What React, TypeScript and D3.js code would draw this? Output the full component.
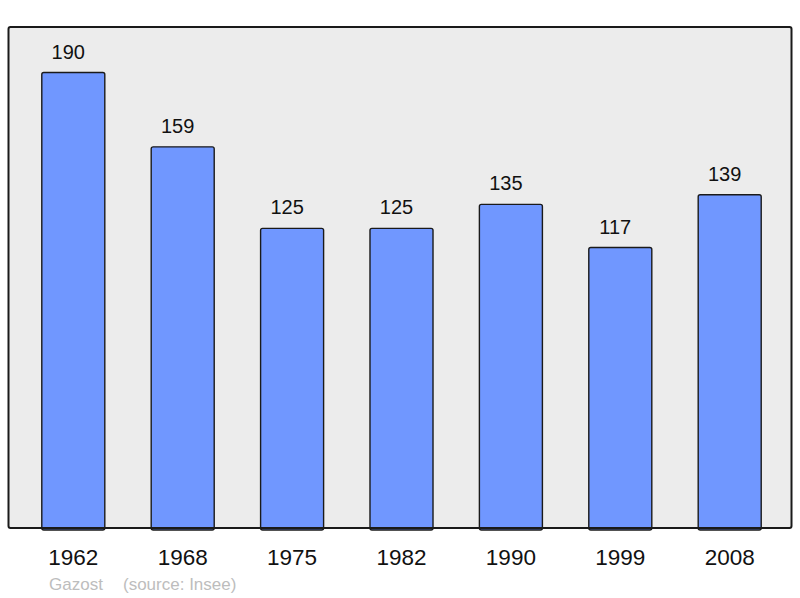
import * as d3 from "d3";
import { useEffect, useRef } from "react";

const years = ["1962", "1968", "1975", "1982", "1990", "1999", "2008"];
const population = [190, 159, 125, 125, 135, 117, 139];
const commune = "Gazost";
const source = "(source: Insee)";

function App() {
  const ref = useRef<SVGSVGElement>(null);

  useEffect(() => {
    const width = 800;
    const height = 598;
    const svg = d3.select(ref.current);
    svg.selectAll("*").remove();

    const frame = { left: 8.5, top: 27, right: 791.5, bottom: 528 };

    const x = d3
      .scaleBand<string>()
      .domain(years)
      .range([18.6, 784.4])
      .paddingInner(0.424)
      .paddingOuter(0.212);

    const y = d3.scaleLinear().domain([0, 209]).range([frame.bottom, frame.top]);

    // plot background
    svg
      .append("rect")
      .attr("x", frame.left)
      .attr("y", frame.top)
      .attr("width", frame.right - frame.left)
      .attr("height", frame.bottom - frame.top)
      .attr("rx", 2)
      .attr("fill", "#ececec")
      .attr("stroke", "none");

    const data = years.map((yr, i) => ({ yr, v: population[i] }));

    svg
      .append("g")
      .selectAll("rect")
      .data(data)
      .join("rect")
      .attr("x", (d) => x(d.yr) ?? 0)
      .attr("y", (d) => y(d.v))
      .attr("width", x.bandwidth())
      .attr("height", (d) => frame.bottom - y(d.v) + 2)
      .attr("rx", 2)
      .attr("fill", "#7097ff")
      .attr("stroke", "#1a1a1a")
      .attr("stroke-width", 1.4);

    // frame border on top of bars
    svg
      .append("rect")
      .attr("x", frame.left)
      .attr("y", frame.top)
      .attr("width", frame.right - frame.left)
      .attr("height", frame.bottom - frame.top)
      .attr("rx", 2)
      .attr("fill", "none")
      .attr("stroke", "#1a1a1a")
      .attr("stroke-width", 2);

    // value labels sit a little left of the bar centre in the original
    svg
      .append("g")
      .selectAll("text")
      .data(data)
      .join("text")
      .attr("x", (d) => (x(d.yr) ?? 0) + x.bandwidth() / 2 - 5)
      .attr("y", (d) => y(d.v) - 14)
      .attr("text-anchor", "middle")
      .style("font", "20px 'Liberation Sans', Arial, sans-serif")
      .attr("fill", "#111")
      .text((d) => d.v);

    svg
      .append("g")
      .selectAll("text")
      .data(years)
      .join("text")
      .attr("x", (d) => (x(d) ?? 0) + x.bandwidth() / 2)
      .attr("y", 565)
      .attr("text-anchor", "middle")
      .style("font", "22.5px 'Liberation Sans', Arial, sans-serif")
      .attr("fill", "#111")
      .text((d) => d);

    const foot = svg
      .append("g")
      .style("font", "17px 'Liberation Sans', Arial, sans-serif")
      .attr("fill", "#bdbdbd");
    foot.append("text").attr("x", 49).attr("y", 590).text(commune);
    foot.append("text").attr("x", 123).attr("y", 590).text(source);

    svg.attr("width", width).attr("height", height);
  }, []);

  return (
    <svg
      ref={ref}
      width={800}
      height={598}
      style={{ position: "absolute", left: 0, top: 0, background: "#fff" }}
    ></svg>
  );
}

export default App;
